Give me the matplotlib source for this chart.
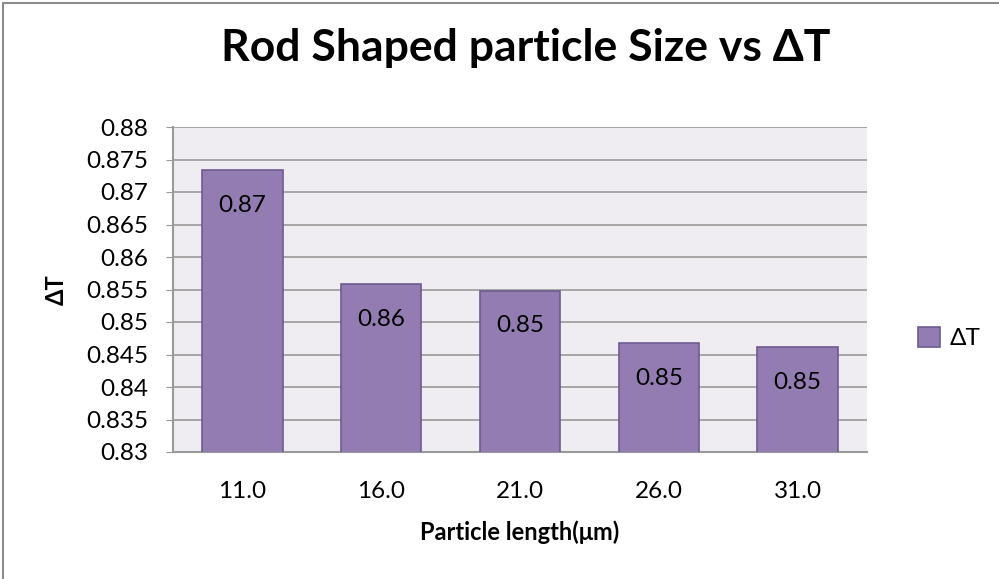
import matplotlib
matplotlib.use("Agg")
import matplotlib.pyplot as plt
from matplotlib.patches import Rectangle

categories = ['11.0', '16.0', '21.0', '26.0', '31.0']
delta_t = [0.8734, 0.8558, 0.8548, 0.8467, 0.8461]
yticks = [0.83, 0.835, 0.84, 0.845, 0.85, 0.855, 0.86, 0.865, 0.87, 0.875, 0.88]
ytick_labels = ['0.83', '0.835', '0.84', '0.845', '0.85', '0.855', '0.86',
                '0.865', '0.87', '0.875', '0.88']

plt.rcParams['font.family'] = ['Lato', 'DejaVu Sans']

fig = plt.figure(figsize=(9.99, 5.79), dpi=100)
ax = fig.add_axes([173 / 999, 1 - 452 / 579, (867 - 173) / 999, (452 - 127) / 579])
ax.set_facecolor('#efedf2')

bars = ax.bar(range(len(categories)), delta_t, width=0.58, color='#937cb1',
              edgecolor='#6f5a92', linewidth=1.2, label='ΔT', zorder=3)
for b, v in zip(bars, delta_t):
    ax.text(b.get_x() + b.get_width() / 2, v - 0.0054, '%.2f' % v,
            ha='center', va='center', fontsize=17.5, color='black', zorder=4)

ax.set_xlim(-0.5, len(categories) - 0.5)
ax.set_ylim(0.83, 0.88)
ax.set_yticks(yticks)
ax.set_yticklabels(ytick_labels)
ax.set_xticks(range(len(categories)))
ax.set_xticklabels(categories)
ax.tick_params(axis='y', labelsize=17.5, length=5, color='#999999', pad=13)
ax.tick_params(axis='x', labelsize=17.5, length=0, pad=21)
ax.grid(axis='y', color='#9a9a9a', linewidth=1.2, zorder=0)
for s in ['top', 'right']:
    ax.spines[s].set_visible(False)
for s in ['left', 'bottom']:
    ax.spines[s].set_color('#9a9a9a')
    ax.spines[s].set_linewidth(1.5)

ax.set_xlabel('Particle length(μm)', fontsize=17, fontweight='bold', labelpad=13)
ax.set_ylabel('ΔT', fontsize=17, fontweight='bold', labelpad=13)

fig.text(526 / 999, 1 - 48 / 579, 'Rod Shaped particle Size vs ΔT',
         ha='center', va='center', fontsize=32, fontweight='bold')

fig.legend(handles=[bars], labels=['ΔT'], loc='center left',
           bbox_to_anchor=(896 / 999, 1 - 338 / 579), frameon=False,
           fontsize=17.5, handlelength=0.9, handleheight=0.9, handletextpad=0.4)

fig.patches.append(Rectangle((3 / 999, -0.01), 1.1, 1 - 3 / 579 + 0.01,
                             transform=fig.transFigure, fill=False,
                             edgecolor='#8c8c8c', linewidth=1.5))

fig.savefig('out.png', dpi=100)
